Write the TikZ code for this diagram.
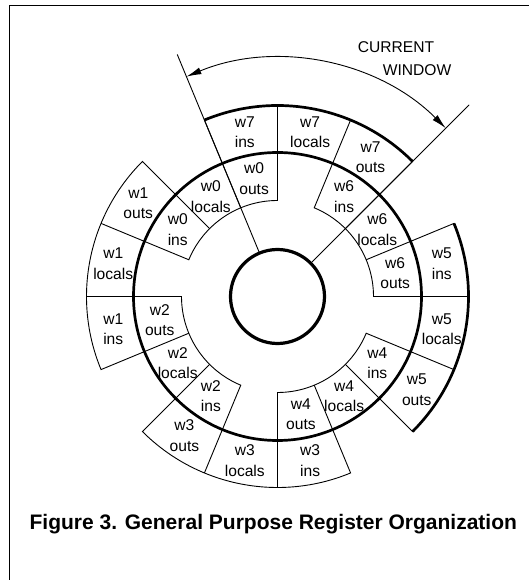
\documentclass[tikz,border=0pt]{standalone}
\usepackage{fontspec}
\setmainfont{Liberation Sans}
\usetikzlibrary{arrows.meta}
\begin{document}
\begin{tikzpicture}[x=1pt,y=1pt,
  thinline/.style={line width=0.9pt, line join=miter},
  thickline/.style={line width=2.7pt},
  lab/.style={font=\fontsize{15.6}{20.5}\selectfont, align=center, inner sep=0pt},
  headlab/.style={font=\fontsize{15.6}{19}\selectfont, inner sep=0pt},
  caption/.style={font=\fontsize{21}{24}\selectfont\bfseries, inner sep=0pt},
  >={Latex[length=15pt,width=7pt]}
]
\useasboundingbox (-277.5,-283.5) rectangle (251.5,296.5);
\def\rin{96}\def\rmid{144}\def\rout{191}
% frame
\draw[thinline] (-268,-283.5) -- (-268,291) -- (251.5,291);
% inner windows (w0, w2, w4, w6)
\foreach \s in {90,180,270,0}{
  \draw[thinline] (\s:\rmid) -- (\s:\rin) arc[start angle=\s, end angle=\s+67.5, radius=\rin] -- (\s+67.5:\rmid);
  \draw[thinline] (\s+22.5:\rin) -- (\s+22.5:\rmid);
  \draw[thinline] (\s+45:\rin) -- (\s+45:\rmid);
}
% outer windows (w7, w1, w3, w5)
\foreach \s in {45,135,225,315}{
  \draw[thinline] (\s:\rmid) -- (\s:\rout) arc[start angle=\s, end angle=\s+67.5, radius=\rout] -- (\s+67.5:\rmid);
  \draw[thinline] (\s+22.5:\rmid) -- (\s+22.5:\rout);
  \draw[thinline] (\s+45:\rmid) -- (\s+45:\rout);
}
% thick outer arcs of w7 and w5
\draw[thickline] (45:\rout) arc[start angle=45, end angle=112.5, radius=\rout];
\draw[thickline] (315:\rout) arc[start angle=315, end angle=382.5, radius=\rout];
% middle and inner thick circles
\draw[thickline] (0,0) circle[radius=\rmid];
\draw[line width=3.2pt] (0,0) circle[radius=47];
% current window
\coordinate (la) at (112.5:47);
\coordinate (lb) at (112.5:262);
\coordinate (ra) at (45:47);
\coordinate (rb) at (45:271);
\coordinate (aa) at (112.5:238);
\draw[thinline] (la) -- (lb);
\draw[thinline] (ra) -- (rb);
\draw[thinline, <->] (aa) arc[start angle=112.5, end angle=45, radius=238];
\node[headlab] (cur) at (118.5,249) {CURRENT};
\node[headlab] (win) at (139.5,226.5) {WINDOW};
% labels
\foreach \n/\t/\a/\r in {
  w7/ins/101.25/167.5, w7/locals/78.75/167.5, w7/outs/56.25/167.5,
  w5/ins/11.25/167.5, w5/locals/-11.25/167.5, w5/outs/-33.75/167.5,
  w3/ins/-78.75/167.5, w3/locals/-101.25/167.5, w3/outs/-123.75/167.5,
  w1/ins/-168.75/167.5, w1/locals/168.75/167.5, w1/outs/146.25/167.5,
  w6/ins/56.25/120, w6/locals/33.75/120, w6/outs/11.25/120,
  w4/ins/-33.75/120, w4/locals/-56.25/120, w4/outs/-78.75/120,
  w2/ins/-123.75/120, w2/locals/-146.25/120, w2/outs/-168.75/120,
  w0/ins/146.25/120, w0/locals/123.75/120, w0/outs/101.25/120}{
  \node[lab] (\n\t) at (\a:\r) {\n\\\t};
}
\node[caption] (cap) at (-4.2,-228) {Figure 3. General Purpose Register Organization};
\end{tikzpicture}
\end{document}
